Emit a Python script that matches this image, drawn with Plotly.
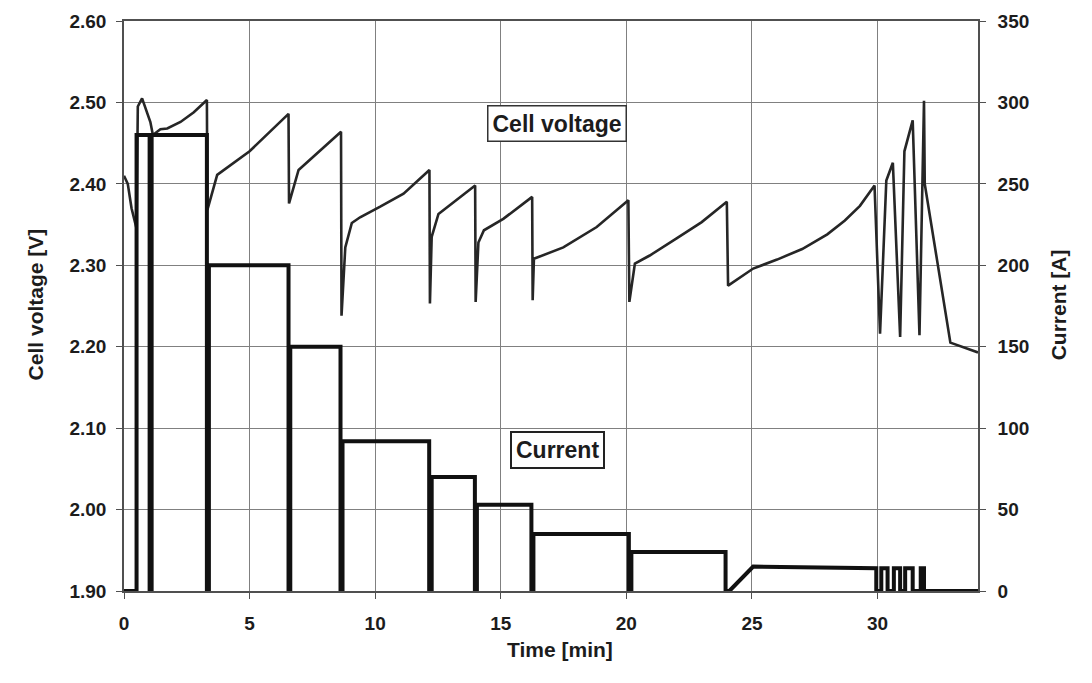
import plotly.graph_objects as go

# Cell voltage trace: time [min] and voltage [V]
volt_time = [0, 0.15, 0.3, 0.5, 0.55, 0.72, 1.05, 1.15, 1.45, 1.72, 2.25, 2.78, 3.3,
             3.32, 3.71, 5.0, 6.55, 6.57, 6.95, 8.64, 8.66, 8.81, 9.07, 9.4, 10.2,
             11.13, 12.16, 12.18, 12.25, 12.52, 13.98, 14.0, 14.11, 14.33, 15.1,
             16.25, 16.27, 16.32, 17.49, 18.82, 20.08, 20.12, 20.34, 20.93, 22.0,
             23.0, 24.0, 24.05, 25.05, 26.0, 27.0, 28.0, 28.7, 29.3, 29.88, 30.1,
             30.35, 30.61, 30.9, 31.07, 31.4, 31.67, 31.85, 31.88, 32.9, 34.0]
volt_value = [2.41, 2.40, 2.37, 2.345, 2.495, 2.505, 2.476, 2.46, 2.467, 2.468, 2.476,
              2.488, 2.503, 2.368, 2.411, 2.44, 2.486, 2.376, 2.417, 2.464, 2.238,
              2.322, 2.352, 2.359, 2.372, 2.388, 2.417, 2.253, 2.335, 2.363, 2.398,
              2.255, 2.328, 2.343, 2.357, 2.384, 2.257, 2.308, 2.322, 2.347, 2.380,
              2.255, 2.302, 2.312, 2.333, 2.353, 2.378, 2.275, 2.296, 2.307, 2.32,
              2.338, 2.355, 2.373, 2.398, 2.216, 2.404, 2.426, 2.212, 2.44, 2.478,
              2.214, 2.502, 2.40, 2.205, 2.193]

# Current trace: time [min] and current [A]
curr_time = [0, 0.5, 0.5, 1.02, 1.02, 1.1, 1.1, 3.3, 3.3,
             3.38, 3.38, 6.55, 6.55, 6.62, 6.62, 8.62, 8.62, 8.7, 8.7, 12.15, 12.15,
             12.25, 12.25, 13.97, 13.97, 14.05, 14.05, 16.22, 16.22, 16.3, 16.3,
             20.1, 20.1, 20.2, 20.2, 23.95, 23.95, 24.1, 25.05, 29.95, 29.95, 30.15,
             30.15, 30.4, 30.4, 30.65, 30.65, 30.9, 30.9, 31.1, 31.1, 31.4, 31.4,
             31.72, 31.72, 31.85, 31.85, 34.0]
curr_value = [0, 0, 280, 280, 0, 0, 280, 280, 0, 0, 200, 200, 0, 0,
              150, 150, 0, 0, 92, 92, 0, 0, 70, 70, 0, 0, 53, 53, 0, 0, 35, 35, 0, 0,
              24, 24, 0, 0, 15, 14, 0, 0, 14, 14, 0, 0, 14, 14, 0, 0, 14, 14, 0, 0,
              14, 14, 0, 0]

# Axis ticks
time_ticks = [0, 5, 10, 15, 20, 25, 30]
volt_ticks = [1.90, 2.00, 2.10, 2.20, 2.30, 2.40, 2.50, 2.60]
curr_ticks = [0, 50, 100, 150, 200, 250, 300, 350]

FONT = "Liberation Sans"
INK = "#1c1c1c"
GRID = "#808080"

fig = go.Figure()
fig.add_trace(go.Scatter(x=curr_time, y=curr_value, yaxis="y2", mode="lines",
                         line=dict(color="#111111", width=4), name="Current",
                         showlegend=False))
fig.add_trace(go.Scatter(x=volt_time, y=volt_value, mode="lines",
                         line=dict(color="#262626", width=2.6), name="Cell voltage",
                         showlegend=False))

tickfont = dict(family=FONT, size=19, color=INK, weight="bold")

fig.update_layout(
    width=1092, height=683,
    margin=dict(l=124, r=114, t=21, b=92),
    paper_bgcolor="white", plot_bgcolor="white",
    xaxis=dict(range=[0, 34], tickvals=time_ticks, ticktext=[str(t) for t in time_ticks],
               showgrid=True, gridcolor=GRID, gridwidth=1.2, zeroline=False,
               showline=True, linecolor="#505050", linewidth=1.6, mirror=True,
               ticks="outside", ticklen=6, tickcolor="#505050", tickfont=tickfont,
               ticklabelstandoff=8),
    yaxis=dict(range=[1.9, 2.6], tickvals=volt_ticks,
               ticktext=[f"{v:.2f}" for v in volt_ticks],
               showgrid=True, gridcolor=GRID, gridwidth=1.2, zeroline=False,
               showline=True, linecolor="#505050", linewidth=1.6,
               ticks="outside", ticklen=6, tickcolor="#505050", tickfont=tickfont,
               ticklabelstandoff=6),
    yaxis2=dict(range=[0, 350], tickvals=curr_ticks, ticktext=[str(c) for c in curr_ticks],
                overlaying="y", side="right", showgrid=False, zeroline=False,
                showline=True, linecolor="#505050", linewidth=1.6,
                ticks="outside", ticklen=6, tickcolor="#505050", tickfont=tickfont,
                ticklabelstandoff=8),
)

title_font = dict(family=FONT, size=21, color=INK, weight="bold")
box_font = dict(family=FONT, size=23, color=INK, weight="bold")
fig.add_annotation(text="Cell voltage [V]", xref="paper", yref="paper", x=-0.1194, y=0.502,
                   textangle=-90, showarrow=False, font=title_font)
fig.add_annotation(text="Current [A]", xref="paper", yref="paper", x=1.110, y=0.502,
                   textangle=-90, showarrow=False, font=title_font)
fig.add_annotation(text="Time [min]", xref="paper", yref="paper", x=0.5105, y=-0.1263,
                   showarrow=False, font=title_font)
fig.add_annotation(text="Cell voltage", x=17.24, y=2.4745, showarrow=False, font=box_font,
                   bordercolor="#333333", borderwidth=1.5, borderpad=4, bgcolor="white")
fig.add_annotation(text="Current", x=17.24, y=2.0736, showarrow=False, font=box_font,
                   bordercolor="#222222", borderwidth=2, borderpad=4, bgcolor="white")

fig.write_html("out.html")
